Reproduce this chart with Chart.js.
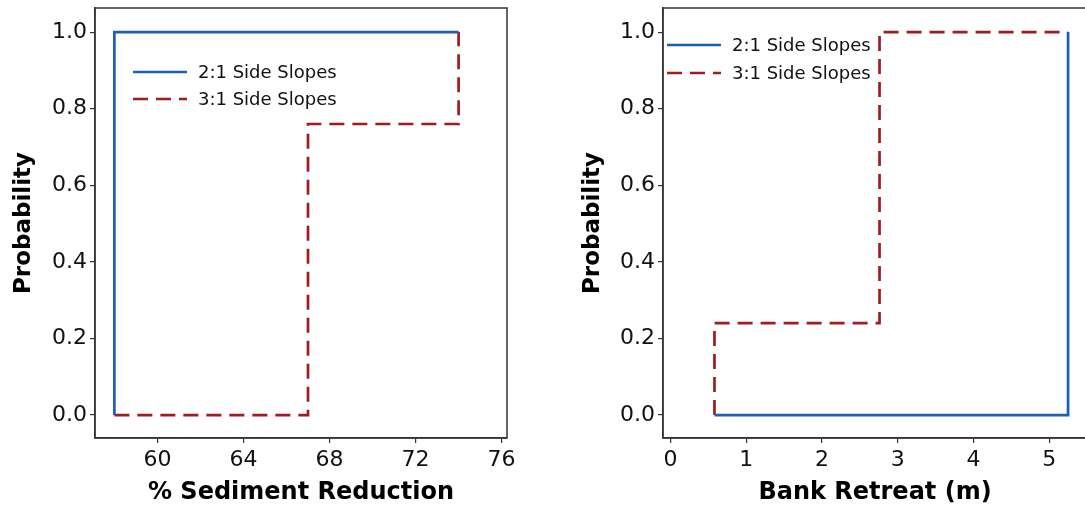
<!DOCTYPE html>
<html>
<head>
<meta charset="utf-8">
<script src="https://cdn.jsdelivr.net/npm/chart.js@4/dist/chart.umd.min.js"></script>
<style>
  html, body { margin: 0; padding: 0; background: #fff; width: 1085px; height: 513px; overflow: hidden; }
  .panel { position: absolute; top: 0; height: 513px; }
  #leftBox { left: 0; width: 520px; }
  #rightBox { left: 569px; width: 530px; }
</style>
</head>
<body>
<div class="panel" id="leftBox"><canvas id="sedimentChart"></canvas></div>
<div class="panel" id="rightBox"><canvas id="retreatChart"></canvas></div>
<script>
// Step-function probabilities for each channel design
const seriesLabels = ['2:1 Side Slopes', '3:1 Side Slopes'];

// % sediment reduction
const sedimentX21 = [58, 74];
const sedimentP21 = [0, 1.0];
const sedimentX31 = [58, 67, 74];
const sedimentP31 = [0, 0.76, 1.0];

// bank retreat (m)
const retreatX21 = [0.58, 5.25];
const retreatP21 = [0, 1.0];
const retreatX31 = [0.58, 2.76, 5.25];
const retreatP31 = [0, 0.24, 1.0];

const probTicks = [0, 0.2, 0.4, 0.6, 0.8, 1.0];
const sedimentTicks = [60, 64, 68, 72, 76];
const retreatTicks = [0, 1, 2, 3, 4, 5];

const BLUE = '#1c5fb5';
const RED = '#a01b22';
const AXIS = '#333333';
const FONT = "'DejaVu Sans', Verdana, sans-serif";

// chart.js: 'after' = rise first, 'before' = run first
const RISE_FIRST = 'after';
const RUN_FIRST = 'before';

function toPoints(xs, ys) {
    return xs.map((x, i) => ({ x: x, y: ys[i] }));
}

// full box around the plot area
const framePlugin = {
    id: 'frame',
    afterDraw(chart) {
        const { ctx, chartArea: a } = chart;
        ctx.save();
        ctx.strokeStyle = AXIS;
        ctx.lineWidth = 1.5;
        ctx.strokeRect(a.left, a.top, a.right - a.left, a.bottom - a.top);
        ctx.restore();
    }
};

// legend drawn inside the plot area
const insideLegend = {
    id: 'insideLegend',
    afterDatasetsDraw(chart, args, opts) {
        const { ctx, chartArea: a } = chart;
        ctx.save();
        ctx.font = '18px ' + FONT;
        ctx.textBaseline = 'middle';
        ctx.fillStyle = '#111';
        chart.data.datasets.forEach((ds, i) => {
            const x = a.left + opts.dx;
            const y = a.top + opts.dy + i * opts.rowGap;
            ctx.strokeStyle = ds.borderColor;
            ctx.lineWidth = ds.borderWidth;
            ctx.setLineDash(ds.borderDash || []);
            ctx.beginPath();
            ctx.moveTo(x, y);
            ctx.lineTo(x + 54, y);
            ctx.stroke();
            ctx.setLineDash([]);
            ctx.fillText(ds.label, x + 65, y + 1);
        });
        ctx.restore();
    }
};

function makeChart(id, cfg) {
    return new Chart(document.getElementById(id), {
        type: 'line',
        data: {
            datasets: [{
                label: seriesLabels[0],
                data: toPoints(cfg.x21, cfg.p21),
                stepped: cfg.step21,
                borderColor: BLUE,
                borderWidth: 2.7,
                pointRadius: 0,
                fill: false
            }, {
                label: seriesLabels[1],
                data: toPoints(cfg.x31, cfg.p31),
                stepped: cfg.step31,
                borderColor: RED,
                borderWidth: 2.7,
                borderDash: [15, 8],
                pointRadius: 0,
                fill: false
            }]
        },
        options: {
            responsive: true,
            maintainAspectRatio: false,
            animation: false,
            layout: { padding: { top: 8, right: cfg.padRight, bottom: 0, left: 0 } },
            plugins: {
                legend: { display: false },
                tooltip: { enabled: false },
                insideLegend: cfg.legend
            },
            scales: {
                x: {
                    type: 'linear',
                    min: cfg.xMin,
                    max: cfg.xMax,
                    afterBuildTicks: s => { s.ticks = cfg.xTicks.map(v => ({ value: v })); },
                    afterFit: s => { s.height = 75; },
                    grid: { drawOnChartArea: false, drawTicks: true, tickLength: 5, color: AXIS, lineWidth: 1.2 },
                    border: { display: true, color: AXIS, width: 1.5 },
                    ticks: {
                        padding: 4,
                        color: '#111',
                        font: { family: FONT, size: 22 },
                        callback: v => String(v)
                    },
                    title: {
                        display: true,
                        text: cfg.xTitle,
                        color: '#000',
                        padding: { top: 0, bottom: 6 },
                        font: { family: FONT, size: 24, weight: 'bold' }
                    }
                },
                y: {
                    min: -0.06,
                    max: 1.063,
                    afterBuildTicks: s => { s.ticks = probTicks.map(v => ({ value: v })); },
                    afterFit: s => {
                        s.width = cfg.yWidth;
                        s.paddingTop = 0;
                        s.paddingBottom = 0;
                    },
                    grid: { drawOnChartArea: false, drawTicks: true, tickLength: 5, color: AXIS, lineWidth: 1.2 },
                    border: { display: true, color: AXIS, width: 1.5 },
                    ticks: {
                        padding: 3,
                        color: '#111',
                        font: { family: FONT, size: 22 },
                        callback: v => Number(v).toFixed(1)
                    },
                    title: {
                        display: true,
                        text: 'Probability',
                        color: '#000',
                        padding: { top: 10, bottom: 0 },
                        font: { family: FONT, size: 23, weight: 'bold' }
                    }
                }
            }
        },
        plugins: [framePlugin, insideLegend]
    });
}

makeChart('sedimentChart', {
    x21: sedimentX21, p21: sedimentP21, step21: RISE_FIRST,
    x31: sedimentX31, p31: sedimentP31, step31: RUN_FIRST,
    xMin: 57.1, xMax: 76.25, xTicks: sedimentTicks,
    xTitle: '% Sediment Reduction',
    yWidth: 95, padRight: 13,
    legend: { dx: 38, dy: 64, rowGap: 27 }
});

makeChart('retreatChart', {
    x21: retreatX21, p21: retreatP21, step21: RUN_FIRST,
    x31: retreatX31, p31: retreatP31, step31: RISE_FIRST,
    xMin: -0.1, xMax: 5.5, xTicks: retreatTicks,
    xTitle: 'Bank Retreat (m)',
    yWidth: 94, padRight: 12,
    legend: { dx: 4, dy: 37, rowGap: 28 }
});
</script>
</body>
</html>
